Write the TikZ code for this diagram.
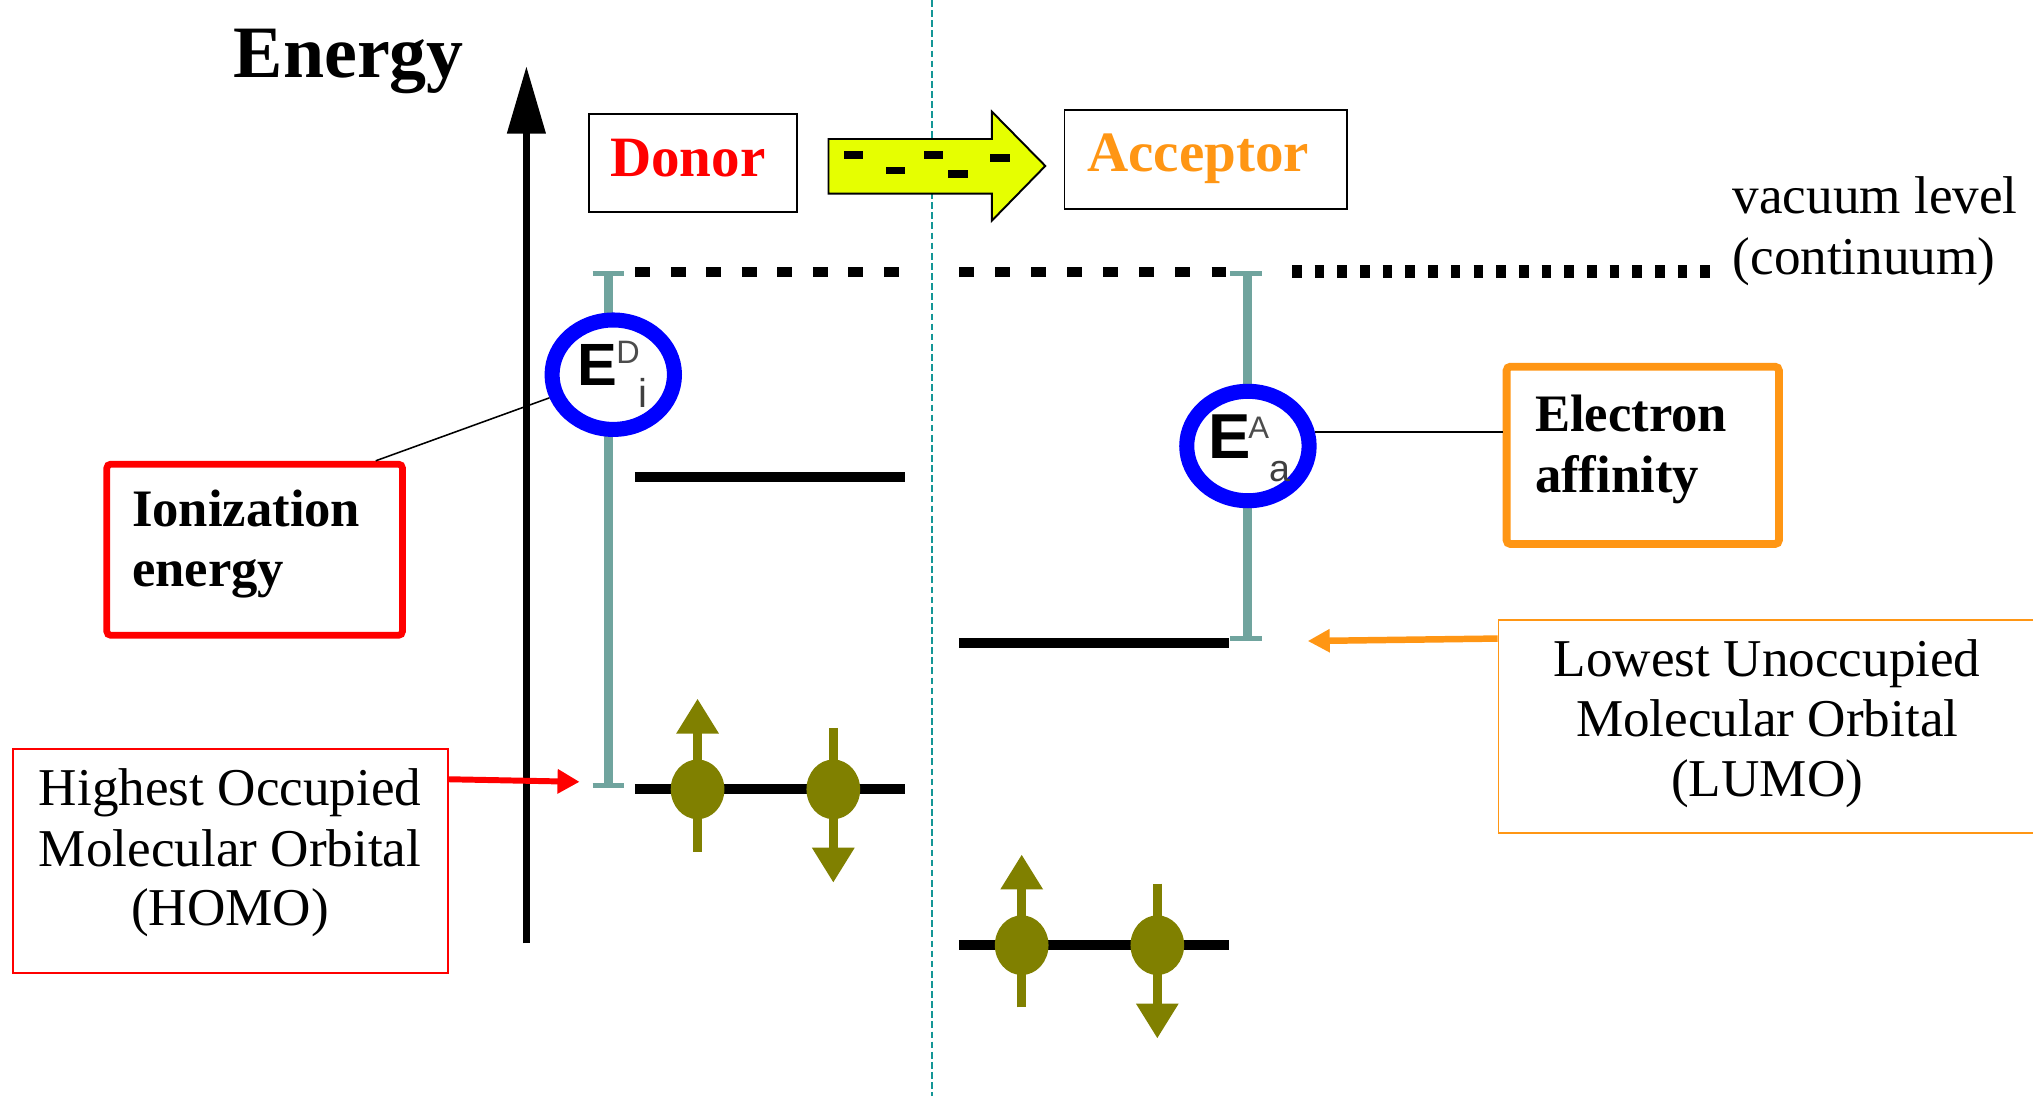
\documentclass[tikz,border=0pt]{standalone}
\usepackage{fontspec}
\setmainfont{Liberation Serif}
\newfontfamily\arialf{Liberation Sans}
\usetikzlibrary{arrows.meta,shapes.geometric}
\definecolor{tealbar}{RGB}{112,164,158}
\definecolor{tealdash}{RGB}{20,150,150}
\definecolor{olivee}{RGB}{128,128,0}
\definecolor{orangee}{RGB}{255,150,20}
\definecolor{yelloww}{RGB}{230,255,0}
\definecolor{bluee}{RGB}{0,0,255}
\begin{document}
\begin{tikzpicture}[x=0.5pt,y=-0.5pt,
  txt/.style={inner sep=0pt, font=\fontsize{20.5}{24}\selectfont},
  btxt/.style={inner sep=0pt, font=\bfseries\fontsize{20.3}{24}\selectfont},
  level/.style={line width=3.85pt},
  tbar/.style={tealbar, line width=3.3pt},
  tcap/.style={tealbar, line width=2pt},
  ring/.style={ellipse, draw=bluee, fill=white, line width=5.8pt, inner sep=0pt,
     minimum width=47.2pt, minimum height=42.2pt},
  esym/.style={inner sep=0pt, anchor=base west},
  eup/.pic={\draw[olivee, line width=3.6pt, -{Triangle[length=13.5pt,width=15.5pt]}] (0,48) -- (0,-70);
            \fill[olivee] (0,0) ellipse [x radius=20.7, y radius=23];},
  edown/.pic={\draw[olivee, line width=3.6pt, -{Triangle[length=13.5pt,width=15.5pt]}] (0,-47.5) -- (0,72);
            \fill[olivee] (0,0) ellipse [x radius=20.7, y radius=23];}
]
\useasboundingbox[fill=white] (0,0) rectangle (1568,845);

% vertical dashed separator
\coordinate (septop) at (718.6,0);
\coordinate (sepbot) at (718.6,845);
\draw[tealdash, line width=0.75pt, dash pattern=on 2.6pt off 1.3pt] (septop) -- (sepbot);

% Energy axis
\node[inner sep=0pt, anchor=base west, font=\bfseries\fontsize{28.5}{34}\selectfont] (energy) at (180,59.6) {Energy};
\coordinate (axbot) at (406,727.6);
\coordinate (axtop) at (406,51);
\draw[line width=2.75pt, -{Triangle[length=26pt,width=14.3pt]}] (axbot) -- (axtop);

% Donor / Acceptor boxes
\node[draw, line width=0.75pt, minimum width=80.5pt, minimum height=37.75pt, inner sep=0pt] (donorbox) at (534.5,125.5) {};
\node[inner sep=0pt, anchor=base, text=red, font=\bfseries\fontsize{22}{26}\selectfont] (donor) at (530.5,136) {Donor};
\node[draw, line width=0.75pt, minimum width=109pt, minimum height=38pt, inner sep=0pt] (accbox) at (930,123) {};
\node[inner sep=0pt, anchor=base, text=orangee, font=\bfseries\fontsize{22}{26}\selectfont] (acceptor) at (924,132.5) {Acceptor};

% yellow transfer arrow
\draw[fill=yelloww, line width=0.75pt] (639,107.2) -- (765,107.2) -- (765,86.1) -- (806.2,128) -- (765,170.2) -- (765,149.4) -- (639,149.4) -- cycle;
\fill (651.3,116.5) rectangle (665.4,122.4);
\fill (683.2,128.8) rectangle (698.2,134.5);
\fill (712.4,116.5) rectangle (727.5,122.4);
\fill (731.4,131.4) rectangle (746.9,137);
\fill (763.3,118.8) rectangle (778.8,125.2);

% vacuum level
\coordinate (vd1) at (490,209.5);
\coordinate (vd2) at (694,209.5);
\coordinate (va1) at (739.8,209.5);
\coordinate (va2) at (946,209.5);
\coordinate (vr1) at (996.5,209.5);
\coordinate (vr2) at (1319,209.5);
\draw[line width=3.85pt, dash pattern=on 5.75pt off 7.95pt] (vd1) -- (vd2);
\draw[line width=3.85pt, dash pattern=on 5.75pt off 8.15pt] (va1) -- (va2);
\draw[line width=4.75pt, dash pattern=on 3.7pt off 5.05pt] (vr1) -- (vr2);
\node[txt, anchor=base west] (vac1) at (1336,164.5) {vacuum level};
\node[txt, anchor=base west] (vac2) at (1336,212) {(continuum)};

% teal I-bars
\coordinate (dbt) at (469.2,211);
\coordinate (dbb) at (469.2,605.7);
\draw[tbar] (dbt) -- (dbb);
\draw[tcap] (457.1,211) -- (481.3,211);
\draw[tcap] (457.1,605.7) -- (481.3,605.7);
\coordinate (abt) at (962,211);
\coordinate (abb) at (962,492.5);
\draw[tbar] (abt) -- (abb);
\draw[tcap] (948.6,211) -- (973,211);
\draw[tcap] (948.6,492.5) -- (973,492.5);

% energy levels
\draw[level] (489.7,368) -- (698,368);
\draw[level] (489.7,608.8) -- (698,608.8);
\draw[level] (739.6,496) -- (947.9,496);
\draw[level] (739.6,729) -- (947.9,729);

% electrons
\pic (e1) at (538,608.8) {eup};
\pic (e2) at (642.7,608.8) {edown};
\pic (e3) at (788,729) {eup};
\pic (e4) at (892.6,729) {edown};

% circles
\node[ring] (ed) at (473,289) {};
\node[esym, font=\arialf\bfseries\fontsize{23}{28}\selectfont] (edE) at (445,297) {E};
\node[esym, text=black!70, font=\arialf\fontsize{12.5}{15}\selectfont] (edD) at (475,280) {D};
\node[esym, text=black!75, font=\arialf\fontsize{15.5}{18}\selectfont] (edi) at (492,314) {i};
\node[ring] (ea) at (962.5,344) {};
\node[esym, font=\arialf\bfseries\fontsize{24.5}{30}\selectfont] (eaE) at (931.5,353.5) {E};
\node[esym, text=black!70, font=\arialf\fontsize{12}{14}\selectfont] (eaA) at (962.5,338) {A};
\node[esym, text=black!75, font=\arialf\fontsize{14.5}{17}\selectfont] (eaa) at (978.5,371) {a};

% Ionization energy box
\node[draw=red, line width=2.6pt, rounded corners=1.5pt, minimum width=114pt, minimum height=66pt, inner sep=0pt] (ionbox) at (196.4,424) {};
\node[btxt, anchor=base west] (ion1) at (101.5,405.7) {Ionization};
\node[btxt, anchor=base west] (ion2) at (101.5,452) {energy};
\path (ionbox.north west) ++(210,0) coordinate (ionc);
\draw[line width=0.6pt] (ionc) -- (ed);

% Electron affinity box
\node[draw=orangee, line width=3pt, rounded corners=1.5pt, minimum width=105pt, minimum height=68.4pt, inner sep=0pt] (eabox) at (1267,351.2) {};
\node[btxt, anchor=base west] (ea1) at (1183.6,333) {Electron};
\node[btxt, anchor=base west] (ea2) at (1183.6,380) {affinity};
\draw[line width=0.6pt] (ea.12) -- (ea.12 -| eabox.west);

% HOMO label
\node[draw=red, line width=0.75pt, minimum width=167.85pt, minimum height=86.5pt, inner sep=0pt] (homobox) at (177.65,664.1) {};
\node[txt, anchor=base] (h1) at (177.5,621.4) {Highest Occupied};
\node[txt, anchor=base] (h2) at (177.5,668.1) {Molecular Orbital};
\node[txt, anchor=base] (h3) at (177.5,713.8) {(HOMO)};
\coordinate (hs) at (345.5,601);
\coordinate (he) at (447,603);
\draw[red, line width=2.3pt, -{Triangle[length=8.5pt,width=9pt]}] (hs) -- (he);

% LUMO label
\node[draw=orangee, line width=0.75pt, minimum width=210pt, minimum height=81.85pt, inner sep=0pt, anchor=north west] (lumobox) at (1155,477.7) {};
\node[txt, anchor=base] (l1) at (1363,521.9) {Lowest Unoccupied};
\node[txt, anchor=base] (l2) at (1363,568.2) {Molecular Orbital};
\node[txt, anchor=base] (l3) at (1363,614.5) {(LUMO)};
\coordinate (ls) at (1155,492.5);
\coordinate (le) at (1008.6,494.4);
\draw[orangee, line width=2.5pt, -{Triangle[length=8.5pt,width=8.5pt]}] (ls) -- (le);
\end{tikzpicture}
\end{document}
